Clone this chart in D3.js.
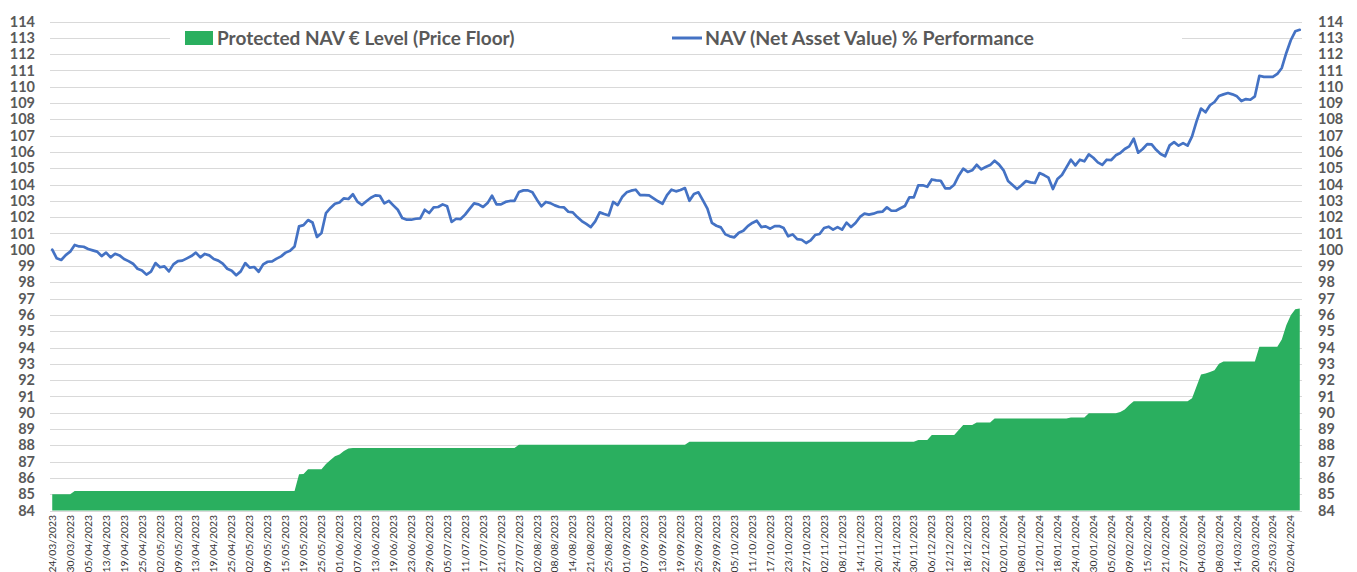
<!DOCTYPE html>
<html>
<head>
<meta charset="utf-8">
<script src="https://cdn.jsdelivr.net/npm/d3@7"></script>
<style>
  body { margin: 0; background: #fff; }
  svg text { font-family: Lato, "Open Sans", sans-serif; }
</style>
</head>
<body>
<svg id="chart" width="1357" height="572"></svg>
<script>
// x axis labels, one every 4 points
let tickLabels = ["24/03/2023","30/03/2023","05/04/2023","13/04/2023","19/04/2023","25/04/2023","02/05/2023","09/05/2023",
  "13/04/2023","19/04/2023","25/04/2023","02/05/2023","09/05/2023","15/05/2023","19/05/2023","25/05/2023","01/06/2023",
  "07/06/2023","13/06/2023","19/06/2023","23/06/2023","29/06/2023","05/07/2023","11/07/2023","17/07/2023","21/07/2023",
  "27/07/2023","02/08/2023","08/08/2023","14/08/2023","21/08/2023","25/08/2023","01/09/2023","07/09/2023","13/09/2023",
  "19/09/2023","25/09/2023","29/09/2023","05/10/2023","11/10/2023","17/10/2023","23/10/2023","27/10/2023","02/11/2023",
  "08/11/2023","14/11/2023","20/11/2023","24/11/2023","30/11/2023","06/12/2023","12/12/2023","18/12/2023","22/12/2023",
  "02/01/2024","08/01/2024","12/01/2024","18/01/2024","24/01/2024","30/01/2024","05/02/2024","09/02/2024","15/02/2024",
  "21/02/2024","27/02/2024","04/03/2024","08/03/2024","14/03/2024","20/03/2024","25/03/2024","02/04/2024"];
let labelEvery = 4;

// NAV % performance, one value per trading day
let navValues = [
  100.0, 99.47, 99.37, 99.67, 99.88, 100.29, 100.2, 100.18, 100.04, 99.96,
  99.88, 99.61, 99.82, 99.53, 99.75, 99.65, 99.43, 99.3, 99.14, 98.83,
  98.73, 98.47, 98.65, 99.18, 98.92, 98.98, 98.67, 99.1, 99.3, 99.33,
  99.47, 99.61, 99.82, 99.53, 99.74, 99.65, 99.43, 99.33, 99.14, 98.83,
  98.71, 98.43, 98.67, 99.18, 98.9, 98.94, 98.65, 99.1, 99.26, 99.28,
  99.45, 99.59, 99.82, 99.94, 100.2, 101.43, 101.51, 101.82, 101.67, 100.78,
  101.02, 102.25, 102.56, 102.82, 102.9, 103.15, 103.11, 103.4, 102.95, 102.74,
  102.97, 103.19, 103.33, 103.31, 102.84, 103.0, 102.72, 102.45, 101.94, 101.84,
  101.84, 101.9, 101.92, 102.45, 102.25, 102.6, 102.62, 102.78, 102.66, 101.7,
  101.9, 101.88, 102.15, 102.5, 102.84, 102.78, 102.62, 102.86, 103.31, 102.78,
  102.78, 102.93, 102.99, 103.0, 103.54, 103.64, 103.64, 103.52, 103.07, 102.66,
  102.93, 102.86, 102.72, 102.62, 102.6, 102.33, 102.29, 102.0, 101.76, 101.58,
  101.39, 101.74, 102.29, 102.19, 102.1, 102.93, 102.74, 103.23, 103.52, 103.62,
  103.68, 103.35, 103.35, 103.33, 103.15, 102.97, 102.82, 103.35, 103.68, 103.58,
  103.66, 103.78, 103.0, 103.42, 103.52, 103.03, 102.52, 101.64, 101.47, 101.37,
  100.94, 100.82, 100.76, 101.04, 101.16, 101.45, 101.64, 101.78, 101.39, 101.43,
  101.29, 101.45, 101.45, 101.33, 100.82, 100.94, 100.65, 100.61, 100.41, 100.57,
  100.9, 100.96, 101.33, 101.41, 101.23, 101.39, 101.23, 101.66, 101.39, 101.64,
  102.01, 102.21, 102.15, 102.21, 102.31, 102.33, 102.6, 102.39, 102.39, 102.54,
  102.68, 103.21, 103.21, 103.95, 103.95, 103.86, 104.31, 104.25, 104.23, 103.76,
  103.76, 103.99, 104.54, 104.97, 104.77, 104.87, 105.21, 104.93, 105.07, 105.19,
  105.46, 105.22, 104.87, 104.21, 103.97, 103.72, 103.95, 104.21, 104.13, 104.09,
  104.7, 104.58, 104.42, 103.72, 104.34, 104.58, 105.05, 105.52, 105.17, 105.52,
  105.42, 105.85, 105.64, 105.36, 105.2, 105.52, 105.5, 105.79, 105.93, 106.18,
  106.34, 106.81, 105.95, 106.18, 106.48, 106.46, 106.13, 105.87, 105.73, 106.4,
  106.6, 106.38, 106.54, 106.38, 106.95, 107.87, 108.66, 108.43, 108.86, 109.06,
  109.43, 109.53, 109.61, 109.53, 109.41, 109.12, 109.24, 109.2, 109.41, 110.67,
  110.6, 110.6, 110.6, 110.78, 111.15, 112.07, 112.85, 113.4, 113.49
];

// protected NAV floor: point index where the level changes, and the level
let floorIdx = [0, 4, 5, 54, 55, 56, 57, 60, 61, 62, 63, 64, 65, 66, 67, 103, 104, 141, 142, 192, 193, 195, 196, 201,
  203, 205, 206, 209, 210, 226, 227, 230, 231, 237, 238, 239, 240, 241, 253, 254, 256, 257, 258, 259, 260, 261,
  268, 269, 273, 274, 275, 276, 277, 278];
let floorVal = [85.0, 85.0, 85.2, 85.2, 86.22, 86.24, 86.53, 86.53, 86.85, 87.1, 87.33, 87.43, 87.65, 87.8, 87.84, 87.84,
  88.04, 88.04, 88.22, 88.22, 88.33, 88.33, 88.63, 88.63, 89.24, 89.24, 89.4, 89.4, 89.65, 89.65, 89.71, 89.71,
  89.96, 89.96, 90.05, 90.2, 90.47, 90.71, 90.71, 90.88, 92.35, 92.4, 92.5, 92.61, 93.0, 93.14, 93.14, 94.04,
  94.04, 94.49, 95.37, 95.98, 96.35, 96.39];

let yTicks = d3.range(84, 115);

let legendNames = ["Protected NAV € Level (Price Floor)", "NAV (Net Asset Value) % Performance"];

let green = "#2aaf5f";
let blue = "#4472c4";
let grey = "#595959";

let svg = d3.select("#chart");
let plotLeft = 50, plotRight = 1302, plotTop = 21.5, plotBottom = 510.5;

let x = d3.scalePoint()
    .domain(d3.range(navValues.length))
    .range([plotLeft, plotRight])
    .padding(0.5);

let y = d3.scaleLinear()
    .domain([84, 114])
    .range([plotBottom, plotTop]);

// gridlines
svg.append("g")
    .selectAll("line")
    .data(yTicks)
    .enter()
    .append("line")
    .attr("x1", plotLeft)
    .attr("x2", plotRight)
    .attr("y1", d => Math.round(y(d)) + 0.5)
    .attr("y2", d => Math.round(y(d)) + 0.5)
    .attr("stroke", "#d9d9d9")
    .attr("stroke-width", 1);

// floor area
let floorPts = floorIdx.map((d, i) => [d, floorVal[i]]);
svg.append("path")
    .datum(floorPts)
    .attr("d", d3.area()
        .x(d => x(d[0]))
        .y0(y(84))
        .y1(d => y(d[1])))
    .attr("fill", green);

// NAV line
svg.append("path")
    .datum(navValues)
    .attr("d", d3.line()
        .x((d, i) => x(i))
        .y(d => y(d)))
    .attr("fill", "none")
    .attr("stroke", blue)
    .attr("stroke-width", 2.7)
    .attr("stroke-linejoin", "round")
    .attr("stroke-linecap", "round");

// y axes, both sides
let leftAxis = d3.axisLeft(y).tickValues(yTicks).tickSize(0).tickPadding(15);
let rightAxis = d3.axisRight(y).tickValues(yTicks).tickSize(0).tickPadding(16);

svg.append("g").attr("transform", `translate(${plotLeft},0)`).call(leftAxis)
    .call(g => g.select(".domain").remove());
svg.append("g").attr("transform", `translate(${plotRight},0)`).call(rightAxis)
    .call(g => g.select(".domain").remove());

svg.selectAll(".tick text")
    .attr("fill", grey)
    .style("font-size", "14.5px")
    .style("font-weight", "bold");

// x labels (rotated)
let xLab = svg.append("g");
xLab.selectAll("text")
    .data(tickLabels)
    .enter()
    .append("text")
    .attr("transform", (d, i) => `translate(${x(i * labelEvery)},515) rotate(-90)`)
    .attr("text-anchor", "end")
    .attr("dy", "0.35em")
    .style("font-size", "10.4px")
    .attr("fill", "#333")
    .text(d => d);

// legend
let legend = svg.append("g");
legend.append("rect")
    .attr("x", 170).attr("y", 23)
    .attr("width", 1012).attr("height", 30)
    .attr("fill", "#fff");
legend.append("rect")
    .attr("x", 185).attr("y", 31)
    .attr("width", 28).attr("height", 14)
    .attr("fill", green);
legend.append("text")
    .attr("x", 217).attr("y", 38)
    .attr("dy", "0.35em")
    .attr("fill", grey)
    .style("font-size", "19px")
    .style("font-weight", "bold")
    .text(legendNames[0]);
legend.append("line")
    .attr("x1", 672).attr("x2", 702)
    .attr("y1", 38).attr("y2", 38)
    .attr("stroke", blue)
    .attr("stroke-width", 3);
legend.append("text")
    .attr("x", 705).attr("y", 38)
    .attr("dy", "0.35em")
    .attr("fill", grey)
    .style("font-size", "19.5px")
    .style("font-weight", "bold")
    .text(legendNames[1]);
</script>
</body>
</html>
